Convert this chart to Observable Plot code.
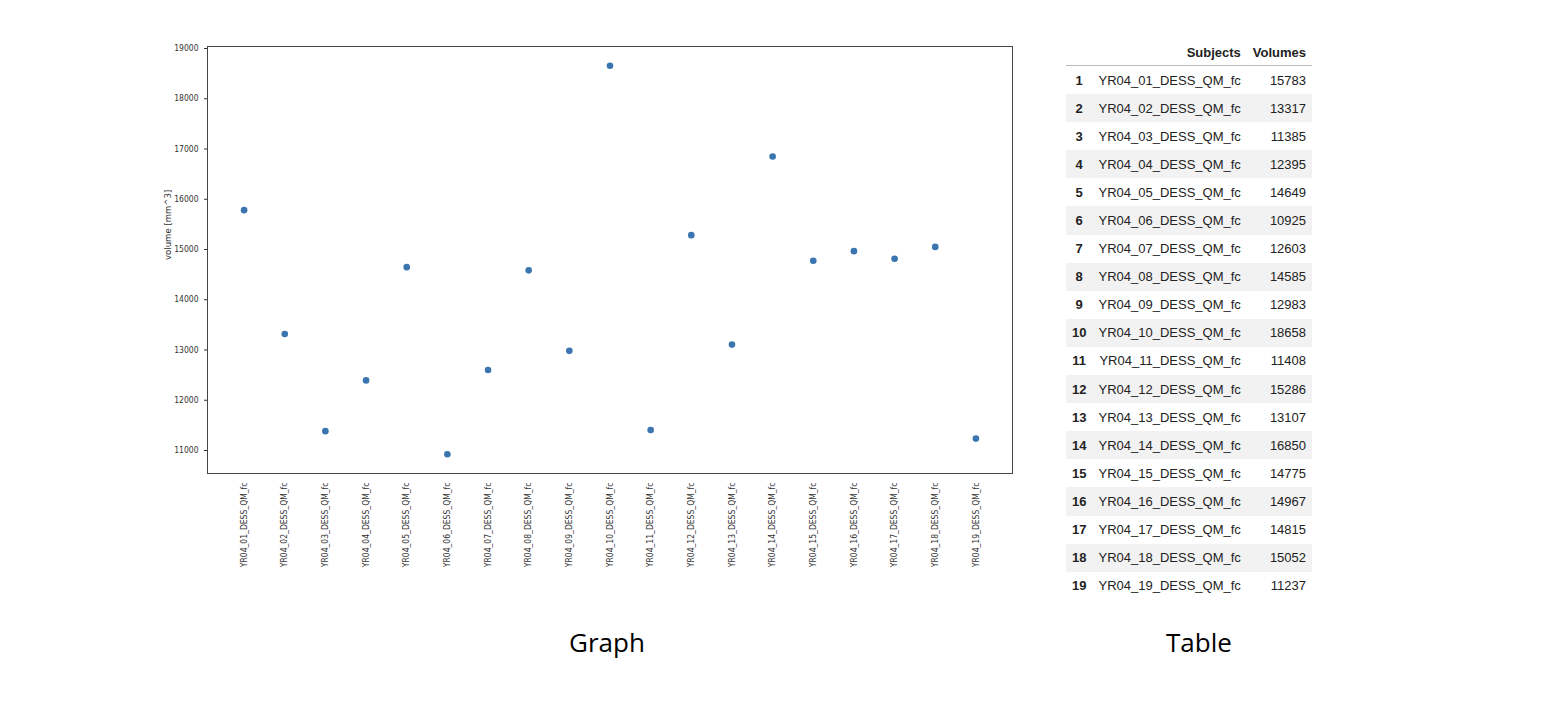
<!DOCTYPE html>
<html><head><meta charset="utf-8">
<script src="https://cdn.jsdelivr.net/npm/d3@7"></script>
<script src="https://cdn.jsdelivr.net/npm/@observablehq/plot@0.6"></script>
<style>
body{margin:0;background:#fff;width:1550px;height:718px;position:relative;overflow:hidden;font-family:"DejaVu Sans",sans-serif}
#chart{position:absolute;left:0;top:0}
#tbl{position:absolute;left:1066px;top:40px;width:242px;border-collapse:collapse;font-family:"Liberation Sans",Arial,sans-serif;font-size:13px;color:#222}
#tbl th{font-weight:bold;text-align:right;padding:0 6px;height:25px;border-bottom:1px solid #bbb}
#tbl td{height:28.1px;padding:0 6px;text-align:right}
#tbl td.i{font-weight:bold;text-align:center;width:20px}
#tbl tr:nth-child(odd) td{background:#f2f2f2}
.cap{position:absolute;top:624px;font-family:"Open Sans",sans-serif;font-size:26px;color:#000}
</style></head><body>
<div id="chart"></div>
<table id="tbl"></table>
<div class="cap" style="left:569px">Graph</div>
<div class="cap" style="left:1166px">Table</div>
<script>
const subjects = Array.from({length:19},(_,i)=>`YR04_${String(i+1).padStart(2,"0")}_DESS_QM_fc`);
const volumes = [15783,13317,11385,12395,14649,10925,12603,14585,12983,18658,11408,15286,13107,16850,14775,14967,14815,15052,11237];
const yTicks = [11000,12000,13000,14000,15000,16000,17000,18000,19000];
const data = subjects.map((s,i)=>({s,v:volumes[i]}));
const svg = Plot.plot({
  width:1040,height:620,marginLeft:207,marginTop:46,marginRight:28,marginBottom:147,
  style:{fontFamily:"DejaVu Sans Condensed, DejaVu Sans",fontSize:"8.5px",color:"#333"},
  x:{type:"point",domain:subjects,padding:0.9,round:false,label:null,tickRotate:-90,tickSize:0},
  y:{domain:[10542,19040],ticks:yTicks,tickFormat:d=>String(d),label:null,tickSize:3},
  marks:[
    Plot.frame({stroke:"#444"}),
    Plot.dot(data,{x:"s",y:"v",r:3.3,fill:"#3a75b0",stroke:null}),
    Plot.text(["volume [mm^3]"],{frameAnchor:"left",dx:-40,rotate:-90,fontSize:9.5,fill:"#333"})
  ]
});
document.getElementById("chart").append(svg);
const t=document.getElementById("tbl");
let h="<tr><th></th><th>Subjects</th><th>Volumes</th></tr>";
subjects.forEach((s,i)=>{h+=`<tr><td class="i">${i+1}</td><td>${s}</td><td>${volumes[i]}</td></tr>`});
t.innerHTML=h;
</script></body></html>
